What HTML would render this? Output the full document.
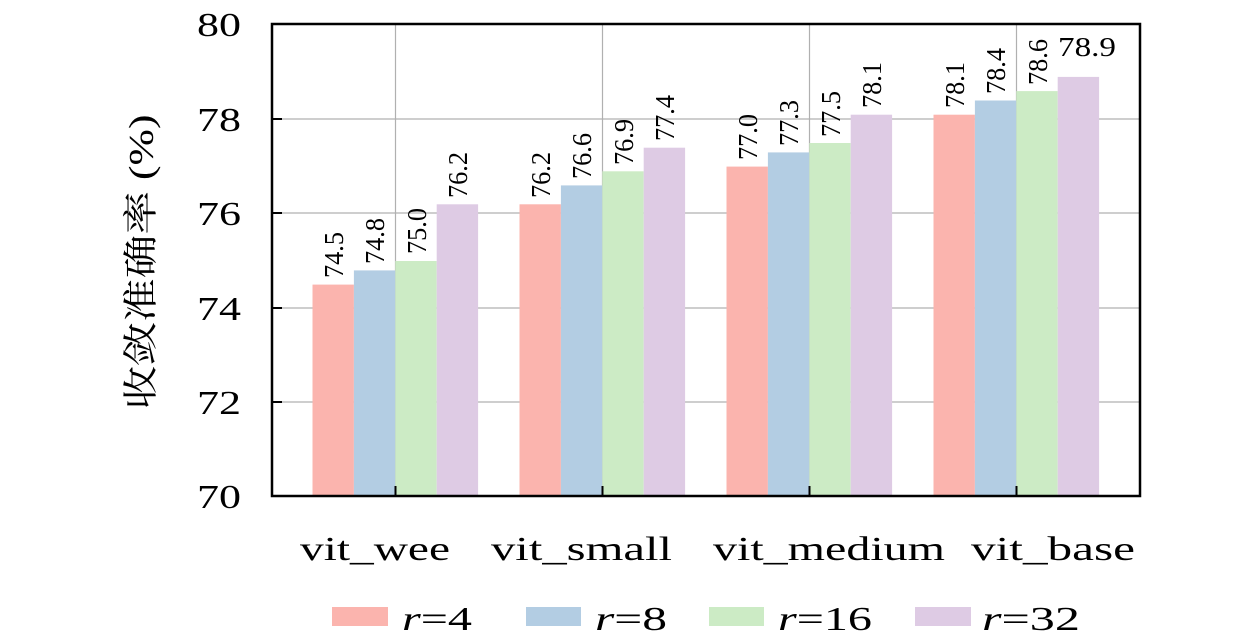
<!DOCTYPE html>
<html><head><meta charset="utf-8"><style>
html,body{margin:0;padding:0;background:#fff;}
svg{display:block;}
text{font-family:"Liberation Serif","Noto Serif CJK SC",serif;fill:#000;}
</style></head><body>
<svg width="1260" height="640" viewBox="0 0 1260 640" xmlns="http://www.w3.org/2000/svg">
<g stroke="#b0b0b0" stroke-width="1.2">
<line x1="272" y1="119" x2="1140" y2="119"/>
<line x1="272" y1="213" x2="1140" y2="213"/>
<line x1="272" y1="308" x2="1140" y2="308"/>
<line x1="272" y1="402" x2="1140" y2="402"/>
<line x1="395.5" y1="24" x2="395.5" y2="496"/>
<line x1="602.5" y1="24" x2="602.5" y2="496"/>
<line x1="809.5" y1="24" x2="809.5" y2="496"/>
<line x1="1016.5" y1="24" x2="1016.5" y2="496"/>
</g>
<g font-size="34">
<text x="197" y="36" textLength="44" lengthAdjust="spacingAndGlyphs">80</text>
<text x="197" y="131" textLength="44" lengthAdjust="spacingAndGlyphs">78</text>
<text x="197" y="225" textLength="44" lengthAdjust="spacingAndGlyphs">76</text>
<text x="197" y="320" textLength="44" lengthAdjust="spacingAndGlyphs">74</text>
<text x="197" y="414" textLength="44" lengthAdjust="spacingAndGlyphs">72</text>
<text x="197" y="508" textLength="44" lengthAdjust="spacingAndGlyphs">70</text>
</g>
<text transform="translate(153,262) rotate(-90)" font-size="35" text-anchor="middle" textLength="295" lengthAdjust="spacingAndGlyphs">收敛准确率 (%)</text>
<g font-size="34">
<text x="300" y="560" textLength="150" lengthAdjust="spacingAndGlyphs">vit_wee</text>
<text x="491" y="560" textLength="181" lengthAdjust="spacingAndGlyphs">vit_small</text>
<text x="713" y="560" textLength="232" lengthAdjust="spacingAndGlyphs">vit_medium</text>
<text x="971" y="560" textLength="164" lengthAdjust="spacingAndGlyphs">vit_base</text>
</g>
<g font-size="34">
<rect x="332" y="607" width="56" height="19" fill="#fbb4ae"/>
<text x="402" y="630" textLength="70" lengthAdjust="spacingAndGlyphs"><tspan font-style="italic">r</tspan>=4</text>
<rect x="526" y="607" width="55" height="19" fill="#b3cde3"/>
<text x="595" y="630" textLength="72" lengthAdjust="spacingAndGlyphs"><tspan font-style="italic">r</tspan>=8</text>
<rect x="709" y="607" width="55" height="19" fill="#ccebc5"/>
<text x="778" y="630" textLength="94" lengthAdjust="spacingAndGlyphs"><tspan font-style="italic">r</tspan>=16</text>
<rect x="915" y="607" width="56" height="19" fill="#decbe4"/>
<text x="982" y="630" textLength="98" lengthAdjust="spacingAndGlyphs"><tspan font-style="italic">r</tspan>=32</text>
</g>
<g font-size="27">
<rect x="312.5" y="284.6" width="41.4" height="211.4" fill="#fbb4ae"/>
<rect x="353.9" y="270.4" width="41.4" height="225.6" fill="#b3cde3"/>
<rect x="395.3" y="261" width="41.4" height="235" fill="#ccebc5"/>
<rect x="436.7" y="204.3" width="41.4" height="291.7" fill="#decbe4"/>
<rect x="519.5" y="204.3" width="41.4" height="291.7" fill="#fbb4ae"/>
<rect x="560.9" y="185.4" width="41.4" height="310.6" fill="#b3cde3"/>
<rect x="602.3" y="171.3" width="41.4" height="324.7" fill="#ccebc5"/>
<rect x="643.7" y="147.7" width="41.4" height="348.3" fill="#decbe4"/>
<rect x="726.5" y="166.6" width="41.4" height="329.4" fill="#fbb4ae"/>
<rect x="767.9" y="152.4" width="41.4" height="343.6" fill="#b3cde3"/>
<rect x="809.3" y="143" width="41.4" height="353" fill="#ccebc5"/>
<rect x="850.7" y="114.7" width="41.4" height="381.3" fill="#decbe4"/>
<rect x="933.5" y="114.7" width="41.4" height="381.3" fill="#fbb4ae"/>
<rect x="974.9" y="100.5" width="41.4" height="395.5" fill="#b3cde3"/>
<rect x="1016.3" y="91.1" width="41.4" height="404.9" fill="#ccebc5"/>
<rect x="1057.7" y="76.9" width="41.4" height="419.1" fill="#decbe4"/>
<g>
<text transform="translate(343,278) rotate(-90)" textLength="46" lengthAdjust="spacingAndGlyphs">74.5</text>
<text transform="translate(384,264) rotate(-90)" textLength="46" lengthAdjust="spacingAndGlyphs">74.8</text>
<text transform="translate(426,254) rotate(-90)" textLength="46" lengthAdjust="spacingAndGlyphs">75.0</text>
<text transform="translate(467,198) rotate(-90)" textLength="46" lengthAdjust="spacingAndGlyphs">76.2</text>
<text transform="translate(550,198) rotate(-90)" textLength="46" lengthAdjust="spacingAndGlyphs">76.2</text>
<text transform="translate(591,179) rotate(-90)" textLength="46" lengthAdjust="spacingAndGlyphs">76.6</text>
<text transform="translate(633,165) rotate(-90)" textLength="46" lengthAdjust="spacingAndGlyphs">76.9</text>
<text transform="translate(674,141) rotate(-90)" textLength="46" lengthAdjust="spacingAndGlyphs">77.4</text>
<text transform="translate(757,160) rotate(-90)" textLength="46" lengthAdjust="spacingAndGlyphs">77.0</text>
<text transform="translate(798,146) rotate(-90)" textLength="46" lengthAdjust="spacingAndGlyphs">77.3</text>
<text transform="translate(840,137) rotate(-90)" textLength="46" lengthAdjust="spacingAndGlyphs">77.5</text>
<text transform="translate(881,108) rotate(-90)" textLength="46" lengthAdjust="spacingAndGlyphs">78.1</text>
<text transform="translate(964,108) rotate(-90)" textLength="46" lengthAdjust="spacingAndGlyphs">78.1</text>
<text transform="translate(1005,94) rotate(-90)" textLength="46" lengthAdjust="spacingAndGlyphs">78.4</text>
<text transform="translate(1047,85) rotate(-90)" textLength="46" lengthAdjust="spacingAndGlyphs">78.6</text>
<text x="1058" y="56" textLength="58" lengthAdjust="spacingAndGlyphs">78.9</text>
</g>
</g>
<g stroke="#000" stroke-width="2">
<line x1="272" y1="119" x2="282" y2="119"/>
<line x1="272" y1="213" x2="282" y2="213"/>
<line x1="272" y1="308" x2="282" y2="308"/>
<line x1="272" y1="402" x2="282" y2="402"/>
<line x1="395.5" y1="496" x2="395.5" y2="486"/>
<line x1="602.5" y1="496" x2="602.5" y2="486"/>
<line x1="809.5" y1="496" x2="809.5" y2="486"/>
<line x1="1016.5" y1="496" x2="1016.5" y2="486"/>
<rect x="272" y="24" width="868" height="472" fill="none" stroke-width="2.5"/>
</g>
</svg>
</body></html>
